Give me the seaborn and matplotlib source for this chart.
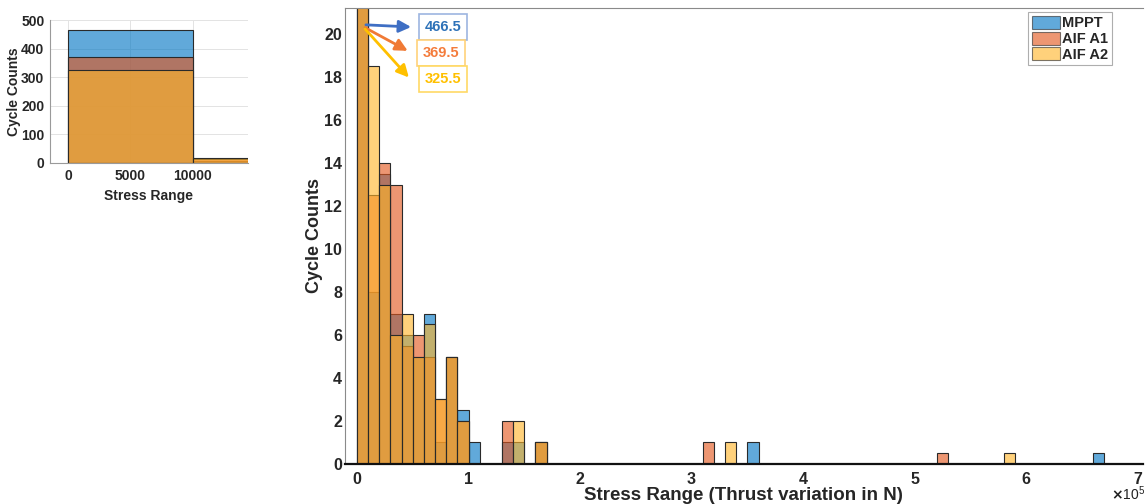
import numpy as np
import pandas as pd
import matplotlib
matplotlib.use("Agg")
import matplotlib.pyplot as plt
from matplotlib.patches import Patch
import seaborn as sns

# Rainflow cycle counts per 10 kN stress-range bin (bin index -> count)
bin_width = 10000
stress_max = 700000

mppt_bins = [0, 1, 2, 3, 4, 5, 6, 7, 8, 9, 10, 13, 14, 16, 35, 66]
mppt_counts = [466.5, 8, 13.5, 7, 6, 5, 7, 1, 5, 2.5, 1, 1, 1, 1, 1, 0.5]

aif_a1_bins = [0, 1, 2, 3, 4, 5, 6, 7, 8, 9, 13, 16, 31, 52]
aif_a1_counts = [369.5, 12.5, 14, 13, 5.5, 6, 5, 3, 5, 2, 2, 1, 1, 0.5]

aif_a2_bins = [0, 1, 2, 3, 4, 5, 6, 7, 8, 9, 14, 16, 33, 58]
aif_a2_counts = [325.5, 18.5, 13, 6, 7, 5, 6.5, 3, 5, 2, 2, 1, 1, 0.5]

series_names = ["MPPT", "AIF A1", "AIF A2"]
series_colors = ["#0075C4", "#E2561C", "#FFB52A"]
face_alpha = 0.62

def to_frame(bins, counts, name):
    centers = np.asarray(bins) * bin_width + bin_width / 2
    return pd.DataFrame({"stress": centers, "count": counts, "series": name})

frames = [
    to_frame(mppt_bins, mppt_counts, series_names[0]),
    to_frame(aif_a1_bins, aif_a1_counts, series_names[1]),
    to_frame(aif_a2_bins, aif_a2_counts, series_names[2]),
]

sns.set_theme(style="white")
plt.rcParams["font.family"] = ["Liberation Sans", "DejaVu Sans"]
plt.rcParams["font.weight"] = "bold"
plt.rcParams["axes.labelweight"] = "bold"

fig = plt.figure(figsize=(11.46, 5.04), dpi=100)
ax = fig.add_axes([0.301, 0.0794, 0.6963, 0.905])
ax_in = fig.add_axes([0.0436, 0.6766, 0.1728, 0.2837])

for target in (ax, ax_in):
    for df, color in zip(frames, series_colors):
        sns.histplot(data=df, x="stress", weights="count",
                     binwidth=bin_width, binrange=(0, stress_max),
                     color=color, alpha=face_alpha, edgecolor="#2a2a2a",
                     linewidth=0.8, ax=target)

# ---- main axes ----
ax.set_xlim(-10800, 704500)
ax.set_ylim(0, 21.22)
ax.set_xticks(np.arange(0, 700001, 100000))
ax.set_yticks(np.arange(0, 21, 2))
ax.ticklabel_format(style="sci", axis="x", scilimits=(5, 5), useMathText=True)
ax.xaxis.get_offset_text().set_visible(False)
fig.text(0.9995, 0.001, r"$\times\mathregular{10^{5}}$", ha="right", va="bottom",
         fontsize=10, fontweight="normal", color="#222222")
ax.set_xlabel("Stress Range (Thrust variation in N)", fontsize=13.5,
              fontweight="bold", labelpad=0)
ax.set_ylabel("Cycle Counts", fontsize=13, fontweight="bold", labelpad=1)
ax.tick_params(axis="x", direction="in", length=5, width=0.8, color="#888888",
               labelsize=11.5, pad=5)
ax.tick_params(axis="y", direction="in", length=4, width=0.8, color="#888888",
               labelsize=11.5, pad=2)
for lbl in ax.get_xticklabels() + ax.get_yticklabels():
    lbl.set_fontweight("bold")
for side in ("left", "top"):
    ax.spines[side].set_color("#8a8a8a")
    ax.spines[side].set_linewidth(0.8)
ax.spines["right"].set_visible(False)
ax.spines["bottom"].set_color("#111111")
ax.spines["bottom"].set_linewidth(1.6)

handles = [Patch(facecolor=c, alpha=face_alpha, edgecolor="#2a2a2a", linewidth=0.8)
           for c in series_colors]
leg = ax.legend(handles, series_names, loc="upper right",
                bbox_to_anchor=(0.967, 1.0),
                prop={"weight": "bold", "size": 10.5}, frameon=True,
                fancybox=False, edgecolor="#9a9a9a", handlelength=1.9,
                handleheight=1.0, handletextpad=0.2, borderpad=0.25,
                labelspacing=0.08, borderaxespad=0.3)
leg.get_frame().set_linewidth(0.8)

# Callouts giving the first-bin counts that run off the top of the axes
first_bin_counts = [mppt_counts[0], aif_a1_counts[0], aif_a2_counts[0]]
arrow_colors = ["#3F6FC4", "#F07A35", "#FFC000"]
text_colors = ["#2E72B8", "#F47C3C", "#FFC000"]
box_edges = ["#9DB5E0", "#FFD27A", "#FFD966"]
arrow_starts = [(8000, 20.43), (7200, 20.30), (7200, 20.24)]
arrow_ends = [(48500, 20.33), (45500, 19.22), (46500, 17.98)]
box_centers = [(77200, 20.33), (75200, 19.12), (77200, 17.90)]
for val, ac, tc, be, s, e, c in zip(first_bin_counts, arrow_colors, text_colors,
                                    box_edges, arrow_starts, arrow_ends, box_centers):
    ax.annotate("", xy=e, xytext=s,
                arrowprops=dict(arrowstyle="-|>,head_length=0.6,head_width=0.3",
                                color=ac, lw=2.0, shrinkA=0, shrinkB=0))
    ax.text(c[0], c[1], f"{val}", color=tc, fontsize=10.5, fontweight="bold",
            ha="center", va="center",
            bbox=dict(boxstyle="square,pad=0.4", facecolor="white",
                      edgecolor=be, linewidth=1.2))

# ---- inset: first bins at full height ----
ax_in.set_xlim(-1450, 14450)
ax_in.set_ylim(0, 500)
ax_in.set_xticks([0, 5000, 10000])
ax_in.set_yticks(np.arange(0, 501, 100))
ax_in.grid(True, color="#e3e3e3", linewidth=0.7)
ax_in.set_axisbelow(True)
ax_in.set_xlabel("Stress Range", fontsize=10, fontweight="bold", labelpad=5)
ax_in.set_ylabel("Cycle Counts", fontsize=10, fontweight="bold", labelpad=0)
ax_in.tick_params(axis="both", length=0, labelsize=10, pad=4)
for lbl in ax_in.get_xticklabels() + ax_in.get_yticklabels():
    lbl.set_fontweight("bold")
for side in ("top", "right"):
    ax_in.spines[side].set_visible(False)
for side in ("left", "bottom"):
    ax_in.spines[side].set_color("#9a9a9a")
    ax_in.spines[side].set_linewidth(0.8)

fig.savefig("out.png", dpi=100)
